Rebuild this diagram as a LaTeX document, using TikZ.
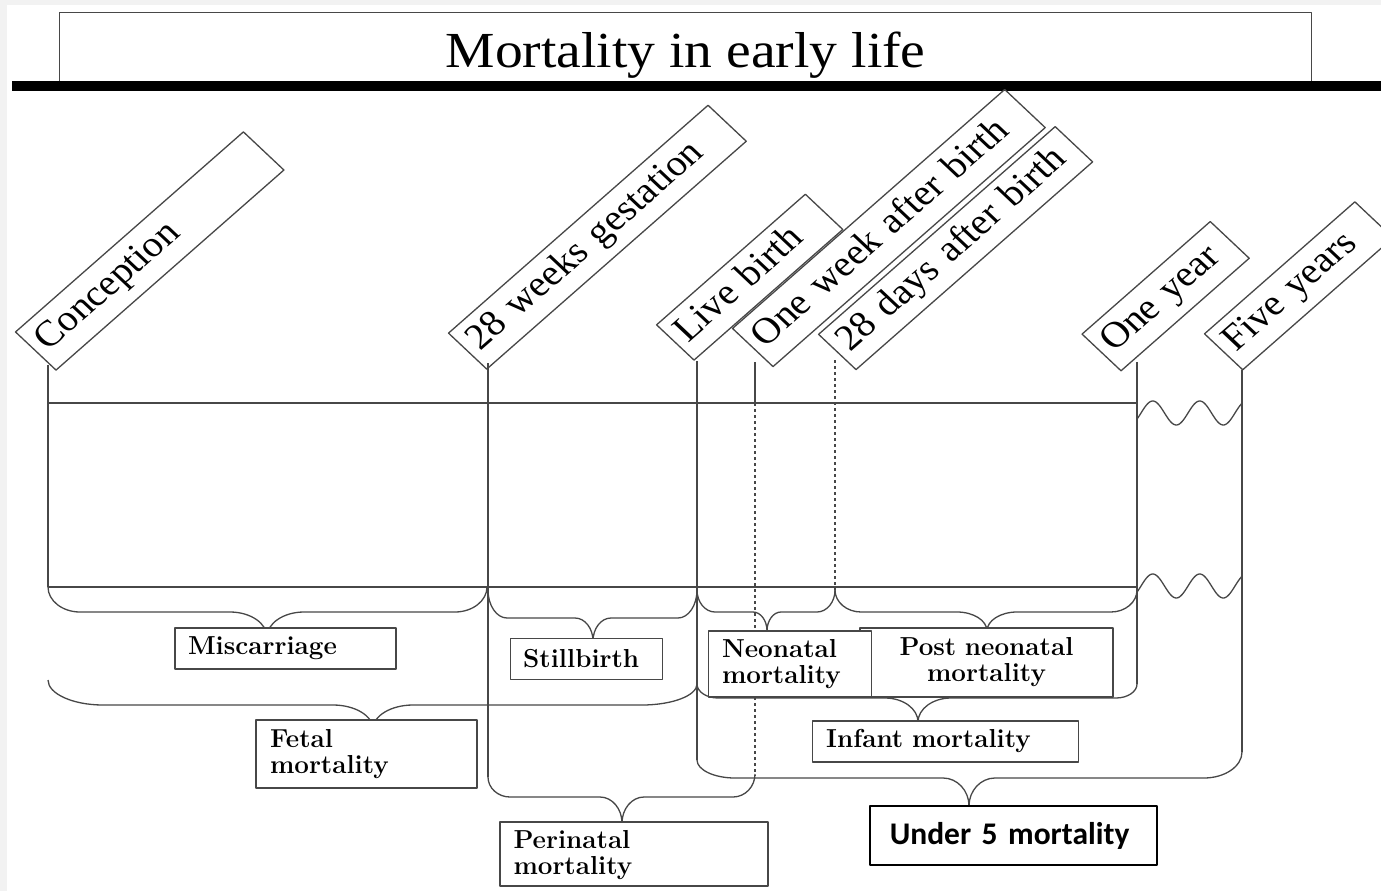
\documentclass[tikz,border=0pt]{standalone}
\usepackage{fontspec}
\usepackage{graphicx}
\newfontfamily\tnr{Liberation Serif}
\newfontfamily\carl{Carlito}
\newcommand{\mybrace}[9]{%
  \draw[ln] (#1,#2) .. controls (#1,{#2+0.55*(#5-#2)}) and ({#1+0.45*#8},#5) .. ({#1+#8},#5)
    -- ({#6-#9},#5) .. controls ({#6-0.45*#9},#5) and (#6,{#7-0.55*(#7-#5)}) .. (#6,#7)
    .. controls (#6,{#7-0.55*(#7-#5)}) and ({#6+0.45*#9},#5) .. ({#6+#9},#5)
    -- ({#3-#8},#5) .. controls ({#3-0.45*#8},#5) and (#3,{#4+0.55*(#5-#4)}) .. (#3,#4);}
\begin{document}
\begin{tikzpicture}[x=1pt,y=-1pt,line join=round,
  ln/.style={draw=black!72,line width=1.3pt},
  dotl/.style={ln,dash pattern=on 3pt off 3pt},
  tick/.style={ln,anchor=south west,xscale=1.1,rotate=44,
    font=\tnr\fontsize{36.5}{40}\selectfont,align=left,
    inner xsep=8pt,inner ysep=0pt,text height=25pt,text depth=8pt},
  lab/.style={ln,fill=white,font=\bfseries\fontsize{26}{26}\selectfont,
    inner ysep=0pt,align=left}]
\useasboundingbox (0,0) rectangle (1381,891);
\clip (0,0) rectangle (1381,891);
\fill[black!5] (0,0) rectangle (1381,891);
\fill[white] (7,5) rectangle (1381,891);

% title
\node[ln,minimum width=1252pt,minimum height=70pt,inner sep=0pt,
  text height=45pt,text depth=6pt,font=\tnr\fontsize{50.5}{55}\selectfont,
  anchor=north west] (title) at (59,12) {\scalebox{1.1}[1]{Mortality in early life}};
\coordinate (tl) at (12,86);
\coordinate (tr) at (1385,86);
\draw[line width=9.5pt,black] (tl) -- (tr);

% rotated milestone boxes
\node[tick,minimum height=53pt,text width=272pt] (con) at (56,371) {Conception};
\node[tick,minimum height=50pt,text width=312pt] (w28) at (486.7,370) {28 weeks gestation};
\node[tick,minimum height=49pt,text width=172pt] (live) at (694,361) {Live birth};
\node[tick,minimum height=53pt,text width=328pt] (week) at (773,367.5) {One week after birth};
\node[tick,minimum height=49pt,text width=283pt] (d28) at (856,370.5) {28 days after birth};
\node[tick,minimum height=51pt,text width=146pt] (yr1) at (1121,371.7) {One year};
\node[tick,minimum height=50pt,text width=174pt] (yr5) at (1242.7,370.7) {Five years};

% timeline coordinates
\coordinate (a1) at (48,365);   \coordinate (a2) at (48,587);
\coordinate (b1) at (488,363);  \coordinate (b2) at (488,777);
\coordinate (c1) at (697,361);  \coordinate (c2) at (697,760);
\coordinate (d1) at (755,362);  \coordinate (dm) at (755,403);  \coordinate (d2) at (755,776);
\coordinate (e1) at (835,360);  \coordinate (e2) at (835,590);
\coordinate (f1) at (1137,362); \coordinate (f2) at (1137,684);
\coordinate (g1) at (1242,370); \coordinate (g2) at (1242,752);
\coordinate (h1) at (48,403);   \coordinate (h2) at (1137,403);
\coordinate (k1) at (48,587);   \coordinate (k2) at (1137,587);

\draw[ln] (a1) -- (a2);
\draw[ln] (b1) -- (b2);
\draw[ln] (c1) -- (c2);
\draw[ln] (d1) -- (dm);
\draw[dotl] (dm) -- (d2);
\draw[dotl] (e1) -- (e2);
\draw[ln] (f1) -- (f2);
\draw[ln] (g1) -- (g2);
\draw[ln] (h1) -- (h2);
\draw[ln] (k1) -- (k2);

% wavy breaks
\draw[ln] plot[domain=1137:1242,samples=90,smooth] (\x,{413-12*sin((\x-1141)*7.66)});
\draw[ln] plot[domain=1137:1242,samples=90,smooth] (\x,{586-12*sin((\x-1141)*7.66)});

% braces
\mybrace{48}{587}{487}{587}{612}{267}{637}{32}{37}
\mybrace{488}{590}{697}{590}{618}{593}{641}{19}{18}
\mybrace{48}{680}{697}{684}{705}{373}{729}{55}{40}
\mybrace{697}{590}{835}{590}{612}{767}{631}{18}{14}
\mybrace{835}{590}{1137}{590}{612}{987}{631}{26}{30}
\mybrace{697}{684}{1137}{684}{698}{918}{722}{21}{33}
\mybrace{697}{760}{1242}{752}{778}{969}{806}{38}{26}
\mybrace{488}{777}{755}{774}{797}{622}{823}{22}{22}

% labels
\node[lab,minimum height=41pt,text width=195pt,inner xsep=13pt] (mis) at (285.5,648.5) {\raisebox{-1.5pt}{Miscarriage}};
\node[lab,minimum height=41pt,text width=127pt,inner xsep=12.5pt] (still) at (586.7,658.8) {Stillbirth};
\node[lab,minimum height=68pt,text width=193pt,inner xsep=14pt] (fetal) at (366.5,754) {Fetal\\mortality};
\node[lab,minimum height=64pt,text width=241pt,inner xsep=13.5pt,text height=21pt] (peri) at (634,854) {Perinatal\\mortality};
\node[lab,minimum height=69pt,text width=225pt,inner xsep=14pt,align=center] (post) at (986.5,662.5) {Post neonatal\\mortality};
\node[lab,minimum height=66pt,text width=136pt,inner xsep=13.5pt] (neo) at (790,663.9) {Neonatal\\mortality};
\node[lab,minimum height=41pt,text width=239pt,inner xsep=13.5pt] (inf) at (945.7,741.4) {\raisebox{-1.5pt}{Infant mortality}};
\node[draw=black,line width=2pt,fill=white,minimum height=59pt,text width=247pt,inner xsep=20pt,
  inner ysep=0pt,align=left,font=\carl\bfseries\fontsize{31.5}{34}\selectfont] (u5) at (1013.3,835.5) {Under 5 mortality};
\end{tikzpicture}
\end{document}
